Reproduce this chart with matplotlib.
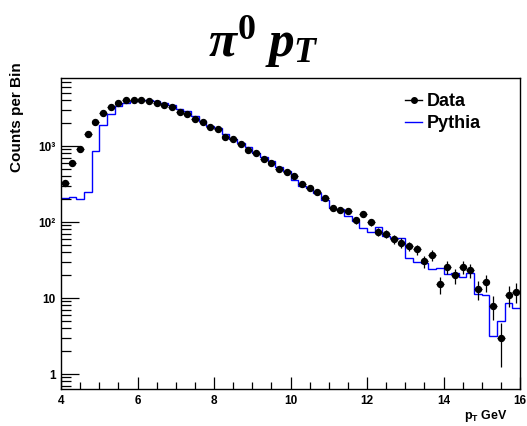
import numpy as np
import matplotlib
matplotlib.use("Agg")
import matplotlib.pyplot as plt
from matplotlib.lines import Line2D
from matplotlib.ticker import FixedLocator, FixedFormatter, MultipleLocator

# Binning: 60 bins of 0.2 GeV between 4 and 16 GeV
pt_min, pt_max, n_bins = 4.0, 16.0, 60

# Counts per bin
data_counts = [329, 597, 921, 1438, 2090, 2690, 3230, 3680, 4060, 3990,
               4030, 3910, 3710, 3430, 3250, 2770, 2640, 2260, 2050, 1780,
               1660, 1300, 1240, 1050, 894, 801, 681, 603, 493, 455,
               404, 319, 279, 249, 204, 154, 146, 139, 105, 127,
               99, 75, 69.5, 59, 53.4, 47.9, 43.7, 30.7, 36.5, 15.1,
               25.8, 19.9, 25.8, 23.3, 13.0, 16.1, 7.9, 2.98, 11.0, 12.1]

pythia_counts = [205, 215, 201, 250, 860, 1890, 2610, 3360, 3710, 3910,
                 4030, 4030, 3910, 3710, 3460, 3050, 2900, 2480, 2130, 1830,
                 1700, 1425, 1225, 1105, 960, 800, 723, 635, 525, 470,
                 360, 300, 277, 240, 195, 152, 148, 120, 103, 83,
                 74.5, 86.7, 65.5, 61.5, 61.5, 33.9, 29.8, 29.3, 23.9, 24.5,
                 20.5, 21.5, 18.7, 21.2, 11.2, 10.8, 3.2, 5.0, 8.7, 7.3]

y_ticks = [1, 10, 100, 1000]
y_tick_labels = ["1", "10", "10²", "10³"]

plt.rcParams["mathtext.fontset"] = "custom"
plt.rcParams["mathtext.it"] = "Liberation Serif:italic:bold"
plt.rcParams["mathtext.rm"] = "Liberation Serif:bold"
plt.rcParams["mathtext.bf"] = "Liberation Serif:bold"
plt.rcParams["mathtext.sf"] = "Liberation Sans:bold"

sans = "Liberation Sans"
W, H = 527, 426

edges = np.linspace(pt_min, pt_max, n_bins + 1)
centers = 0.5 * (edges[:-1] + edges[1:])
half_w = 0.5 * (edges[1] - edges[0])
data = np.array(data_counts, dtype=float)
pythia = np.array(pythia_counts, dtype=float)

fig = plt.figure(figsize=(W / 100, H / 100), dpi=100)
ax = fig.add_axes([61 / W, 1 - 389 / H, (520 - 61) / W, (389 - 78) / H])

ax.stairs(pythia, edges, baseline=None, color="#0000ff", linewidth=1.0)
ax.errorbar(centers, data, yerr=np.sqrt(data), xerr=half_w, fmt="o",
            color="black", ms=4.3, elinewidth=0.9, capsize=0)

ax.set_yscale("log")
ax.set_xlim(pt_min, pt_max)
ax.set_ylim(0.635, 7850)

ax.yaxis.set_major_locator(FixedLocator(y_ticks))
ax.yaxis.set_major_formatter(FixedFormatter(y_tick_labels))
ax.xaxis.set_major_locator(MultipleLocator(2))
ax.xaxis.set_minor_locator(MultipleLocator(0.5))

ax.tick_params(which="both", direction="in", top=False, right=False)
ax.tick_params(axis="x", which="major", length=9, width=0.9, pad=4)
ax.tick_params(axis="x", which="minor", length=5, width=0.9)
ax.tick_params(axis="y", which="major", length=13, width=0.9, pad=4)
ax.tick_params(axis="y", which="minor", length=7, width=0.9)
for lab in ax.get_xticklabels() + ax.get_yticklabels():
    lab.set_fontfamily(sans)
    lab.set_fontweight("bold")
    lab.set_fontsize(8.5)
for s in ax.spines.values():
    s.set_linewidth(1.0)

fig.text(17 / W, 1 - 62 / H, "Counts per Bin", rotation=90, ha="center",
         va="top", fontfamily=sans, fontweight="bold", fontsize=11)
fig.text(508 / W, 1 - 416 / H, r"$\mathsf{p_T}$ GeV", ha="right",
         va="center", fontfamily=sans, fontweight="bold", fontsize=9)

fig.text(0.5, 1 - 42 / H, r"$\pi^0\;p_T$", ha="center", va="center",
         fontsize=37)

handles = [Line2D([], [], color="black", marker="o", ms=4, lw=1.0),
           Line2D([], [], color="#0000ff", lw=1.0)]
ax.legend(handles, ["Data", "Pythia"], loc="upper left",
          bbox_to_anchor=(405 / W, 1 - 93 / H), bbox_transform=fig.transFigure,
          frameon=False, borderpad=0, borderaxespad=0, handlelength=0.96,
          handletextpad=0.25, labelspacing=0.3,
          prop={"family": sans, "weight": "bold", "size": 13})

fig.savefig("out.png", dpi=100)
